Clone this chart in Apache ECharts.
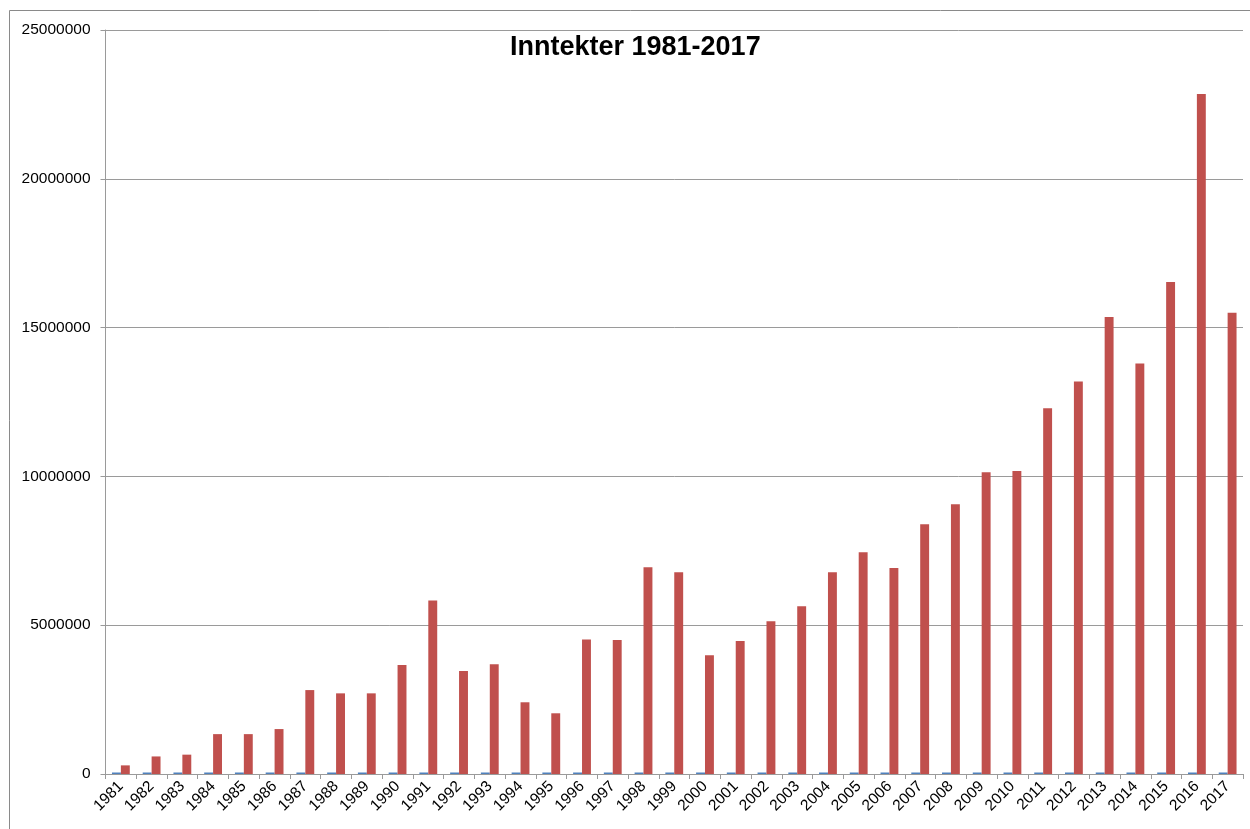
<!DOCTYPE html>
<html>
<head>
<meta charset="utf-8">
<script src="https://cdn.jsdelivr.net/npm/echarts@6/dist/echarts.min.js"></script>
<style>
html,body{margin:0;padding:0;background:#fff;}
#chart{width:1250px;height:829px;}
</style>
</head>
<body>
<div id="chart"></div>
<script>
const years = ['1981','1982','1983','1984','1985','1986','1987','1988','1989','1990','1991','1992','1993','1994','1995','1996','1997','1998','1999','2000','2001','2002','2003','2004','2005','2006','2007','2008','2009','2010','2011','2012','2013','2014','2015','2016','2017'];
const yearValues = [1981,1982,1983,1984,1985,1986,1987,1988,1989,1990,1991,1992,1993,1994,1995,1996,1997,1998,1999,2000,2001,2002,2003,2004,2005,2006,2007,2008,2009,2010,2011,2012,2013,2014,2015,2016,2017];
const income = [290000,590000,650000,1340000,1340000,1510000,2820000,2710000,2710000,3660000,5830000,3460000,3690000,2410000,2040000,4520000,4500000,6950000,6780000,3990000,4470000,5130000,5640000,6780000,7450000,6920000,8390000,9060000,10140000,10180000,12290000,13190000,15360000,13790000,16530000,22850000,15500000];
const yTicks = {min:0, max:25000000, interval:5000000};

const chart = echarts.init(document.getElementById('chart'), null, {renderer:'canvas'});
const gridColor = '#9a9a9a';
chart.setOption({
  animation:false,
  backgroundColor:'#fff',
  graphic:[{type:'rect', shape:{x:9.5,y:10.5,width:1260,height:840}, style:{fill:'none',stroke:'#8a8a8a',lineWidth:1}, silent:true}],
  title:{text:'Inntekter 1981-2017', left:505, top:29,
    textStyle:{fontFamily:'Liberation Sans', fontWeight:'bold', fontSize:27, color:'#000'}},
  grid:{left:105.5, top:30, right:7, bottom:55, containLabel:false},
  xAxis:{type:'category', data:years,
    axisLine:{lineStyle:{color:gridColor,width:1}},
    axisTick:{show:true, alignWithLabel:false, length:5, lineStyle:{color:gridColor}},
    axisLabel:{rotate:45, interval:0, margin:10, fontFamily:'Liberation Sans', fontSize:15.5, color:'#000'}},
  yAxis:{type:'value', min:yTicks.min, max:yTicks.max, interval:yTicks.interval,
    axisLine:{show:true, lineStyle:{color:gridColor}},
    axisTick:{show:true, length:5, lineStyle:{color:gridColor}},
    splitLine:{lineStyle:{color:gridColor,width:1}},
    axisLabel:{margin:15, fontFamily:'Liberation Sans', fontSize:15.5, color:'#000', formatter:v=>String(v)}},
  series:[
    {name:'År', type:'bar', data:yearValues, barGap:'0%', barCategoryGap:'42%', barMinHeight:1.5,
      itemStyle:{color:'#4F81BD'}},
    {name:'Inntekter', type:'bar', data:income, barGap:'0%', barCategoryGap:'42%',
      itemStyle:{color:'#C0504D'}}
  ]
});
</script>
</body>
</html>
